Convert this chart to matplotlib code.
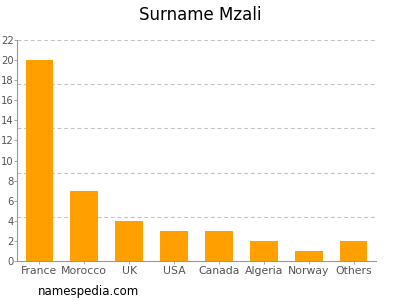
import matplotlib
matplotlib.use('Agg')
import matplotlib.pyplot as plt
import numpy as np

# data
countries = ['France', 'Morocco', 'UK', 'USA', 'Canada', 'Algeria', 'Norway', 'Others']
counts = [20, 7, 4, 3, 3, 2, 1, 2]
yticks = np.arange(0, 23, 2)
grid_levels = [4.4, 8.8, 13.2, 17.6, 22]

fig = plt.figure(figsize=(4, 3), dpi=100)
ax = fig.add_axes([0.0425, 0.13, 0.8975, 0.7367])

x = np.arange(len(countries))
ax.bar(x, counts, width=0.62, color='#ffa000', zorder=2)

for g in grid_levels:
    ax.axhline(g, color='#c4c4c4', linestyle=(0, (3.5, 2.5)), linewidth=0.8, zorder=1)

ax.set_xlim(-0.5, len(countries) - 0.5)
ax.set_ylim(0, 22)
ax.set_xticks(x)
ax.set_xticklabels(countries)
ax.set_yticks(yticks)

for s in ['top', 'right']:
    ax.spines[s].set_visible(False)
for s in ['left', 'bottom']:
    ax.spines[s].set_color('#999999')
    ax.spines[s].set_linewidth(0.8)

ax.tick_params(axis='both', colors='#999999', labelcolor='#555555',
               length=2, width=0.6, pad=1)
ax.tick_params(axis='x', labelsize=7.8, pad=1.5)
ax.tick_params(axis='y', labelsize=7.2, pad=0.5)

fig.text(0.5, 0.95, 'Surname Mzali', ha='center', va='center', fontsize=12)
fig.text(0.095, 0.03, 'namespedia.com', ha='left', va='center', fontsize=8.5)

fig.savefig('out.png', dpi=100)
